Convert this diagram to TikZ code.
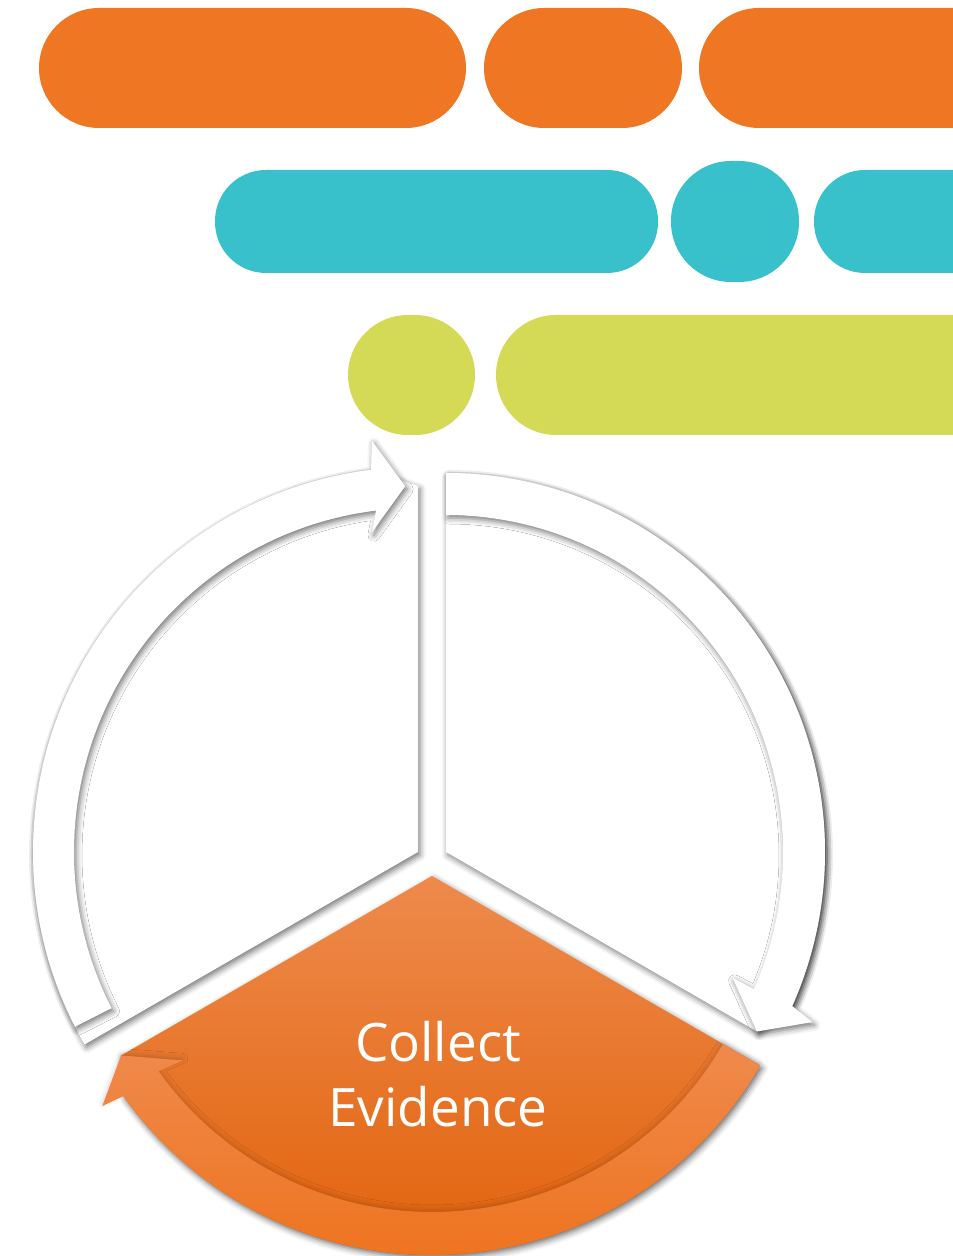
\documentclass[tikz,border=0pt]{standalone}
\usepackage{fontspec}
\setmainfont{Open Sans}
\usetikzlibrary{calc,positioning,shadows.blur}

\begin{document}
\begin{tikzpicture}[x=1pt, y=1pt,
    pill/.style={rounded corners=60pt, inner sep=0pt, minimum height=120pt},
    pillsmall/.style={rounded corners=51pt, inner sep=0pt, minimum height=103pt},
    softshadow/.style={blur shadow={shadow xshift=2pt, shadow yshift=-3pt, shadow blur radius=6pt, shadow opacity=55}},
    whitewedge/.style={fill=white, softshadow},
    whiteband/.style={fill=white, softshadow},
    stepwedge/.style={top color=wedgeTop, middle color=wedgeMid, bottom color=wedgeBot, softshadow},
    stepband/.style={top color=bandTop, bottom color=bandBot,
        blur shadow={shadow xshift=0pt, shadow yshift=2pt, shadow blur radius=5pt, shadow opacity=18}},
    label/.style={font=\fontsize{53}{65}\selectfont, text=white, align=center}]
    % Palette
    \definecolor{pillOrange}{HTML}{EF7723}
    \definecolor{pillTeal}{HTML}{38C0CB}
    \definecolor{pillGreen}{HTML}{D4D956}
    \definecolor{wedgeTop}{HTML}{EE8A4C}
    \definecolor{wedgeMid}{HTML}{F07A22}
    \definecolor{wedgeBot}{HTML}{E1620A}
    \definecolor{bandTop}{HTML}{EF8A4C}
    \definecolor{bandBot}{HTML}{EE7420}

    \clip (0,0) rectangle (953,1256);

    % --- Pills ---
    \node[pill, fill=pillOrange, minimum width=427pt] (orangeA) at (252.5,1188) {};
    \node[pill, fill=pillOrange, minimum width=198pt] (orangeB) at (583,1188) {};
    \node[pill, fill=pillOrange, minimum width=401pt] (orangeC) at (899.5,1188) {};

    \node[pillsmall, fill=pillTeal, minimum width=443pt] (tealA) at (436.5,1034.5) {};
    \node[pill, fill=pillTeal, minimum width=128pt, minimum height=121pt] (tealB) at (735,1034.5) {};
    \node[pillsmall, fill=pillTeal, minimum width=286pt] (tealC) at (957,1034.5) {};

    \node[pill, fill=pillGreen, minimum width=127pt] (greenA) at (411.5,881) {};
    \node[pill, fill=pillGreen, minimum width=604pt] (greenB) at (798,881) {};

    % --- Cycle ---
    \coordinate (VL) at (418,404);
    \coordinate (VR) at (446,404);
    \coordinate (VB) at (432,380);

    % left step
    \path[whitewedge] (VL) -- ($(VL)+(210:385)$) arc[start angle=210, end angle=97, radius=385]
        -- ($(VL)+(90:366)$) -- cycle;
    \path[whiteband] ($(VL)+(207:385)$) arc[start angle=207, end angle=97, radius=385]
        -- ($(VL)+(96.4:414)$) -- ($(VL)+(92:366)$) -- ($(VL)+(98.2:323)$)
        -- ($(VL)+(97:344)$) arc[start angle=97, end angle=207, radius=344] -- cycle;

    % right step
    \path[whitewedge] (VR) -- ($(VR)+(90:379)$) arc[start angle=90, end angle=-24, radius=379]
        -- ($(VR)+(-30:359)$) -- cycle;
    \path[whiteband] ($(VR)+(90:379)$) arc[start angle=90, end angle=-24, radius=379]
        -- ($(VR)+(-24.9:404)$) -- ($(VR)+(-30:359)$) -- ($(VR)+(-23.7:313)$)
        -- ($(VR)+(-24:337)$) arc[start angle=-24, end angle=90, radius=337] -- cycle;

    % bottom step
    \path[stepwedge] (VB) -- ($(VB)+(-150:359)$) -- ($(VB)+(-144.5:379)$)
        arc[start angle=-144.5, end angle=-30, radius=379] -- cycle;
    \path[stepband] ($(VB)+(-30:379)$) arc[start angle=-30, end angle=-144.5, radius=379]
        -- ($(VB)+(-145.1:402)$) -- ($(VB)+(-150:359)$) -- ($(VB)+(-143.5:310)$)
        -- ($(VB)+(-144.5:336)$) arc[start angle=-144.5, end angle=-30, radius=336] -- cycle;

    \node[label] (collect) at (438,181.5) {Collect\\Evidence};

\end{tikzpicture}
\end{document}
